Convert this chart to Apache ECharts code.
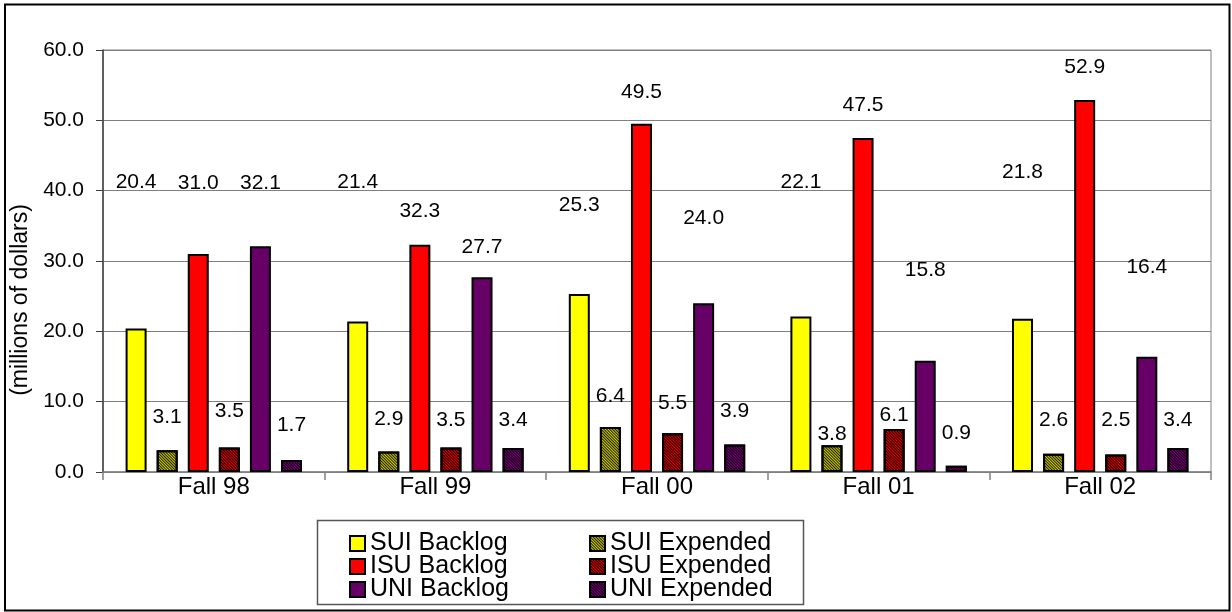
<!DOCTYPE html>
<html>
<head>
<meta charset="utf-8">
<script src="https://cdn.jsdelivr.net/npm/echarts@6/dist/echarts.min.js"></script>
<style>
  html, body { margin: 0; padding: 0; background: #ffffff; }
  #chart { width: 1232px; height: 612px; }
</style>
</head>
<body>
<div id="chart"></div>
<script>
// Terms and values (millions of dollars)
const categories = ['Fall 98', 'Fall 99', 'Fall 00', 'Fall 01', 'Fall 02'];
const suiBacklog  = [20.4, 21.4, 25.3, 22.1, 21.8];
const suiExpended = [3.1, 2.9, 6.4, 3.8, 2.6];
const isuBacklog  = [31.0, 32.3, 49.5, 47.5, 52.9];
const isuExpended = [3.5, 3.5, 5.5, 6.1, 2.5];
const uniBacklog  = [32.1, 27.7, 24.0, 15.8, 16.4];
const uniExpended = [1.7, 3.4, 3.9, 0.9, 3.4];
const yTicks = [0, 10, 20, 30, 40, 50, 60];

// How far (px) each value label sits above its bar top (label centre)
const liftSuiBacklog  = [146, 139, 89, 134, 146];
const liftSuiExpended = [33, 32, 31, 11, 34];
const liftIsuBacklog  = [71, 34, 32, 33, 33];
const liftIsuExpended = [36, 27, 30, 14, 34];
const liftUniBacklog  = [63, 30, 85, 91, 89];
const liftUniExpended = [35, 28, 33, 32, 28];

const plainFont = "'Liberation Sans', Arial, sans-serif";
const LABEL_HALF = 11;

function hatch() {
  return {
    symbol: 'rect',
    symbolSize: 1,
    dashArrayX: [1, 0],
    dashArrayY: [1, 1],
    rotation: Math.PI / 4,
    color: 'rgba(0,0,0,0.85)'
  };
}

function makeSeries(name, values, lifts, color, patterned) {
  return {
    name: name,
    type: 'bar',
    barWidth: 21,
    barGap: '48%',
    itemStyle: Object.assign({
      color: color,
      borderColor: '#000000',
      borderWidth: 2
    }, patterned ? { decal: hatch() } : {}),
    label: {
      show: true,
      position: 'top',
      color: '#000000',
      fontFamily: plainFont,
      fontSize: 21,
      lineHeight: 22,
      formatter: p => p.value.toFixed(1)
    },
    data: values.map((v, i) => ({
      value: v,
      label: { distance: Math.max(0, lifts[i] - LABEL_HALF) }
    }))
  };
}

function legendColumn(left, names) {
  return {
    orient: 'vertical',
    left: left, top: 526, height: 100,
    itemWidth: 15, itemHeight: 15, itemGap: -2,
    icon: 'rect',
    textStyle: { fontFamily: plainFont, fontSize: 25, lineHeight: 22, color: '#000000' },
    data: names
  };
}

const chart = echarts.init(document.getElementById('chart'), null, { renderer: 'canvas' });

chart.setOption({
  backgroundColor: '#ffffff',
  animation: false,
  grid: {
    left: 103, right: 21, top: 50, bottom: 140,
    outerBoundsMode: 'none',
    containLabel: false,
    show: true, borderColor: '#808080', borderWidth: 1
  },
  legend: [
    legendColumn(344, ['SUI Backlog', 'ISU Backlog', 'UNI Backlog']),
    legendColumn(584, ['SUI Expended', 'ISU Expended', 'UNI Expended'])
  ],
  xAxis: {
    type: 'category',
    data: categories,
    axisLine: { lineStyle: { color: '#808080', width: 1.5 } },
    axisTick: { show: true, length: 8, lineStyle: { color: '#808080', width: 1.5 } },
    axisLabel: { margin: 3, color: '#000000', fontFamily: plainFont, fontSize: 24 }
  },
  yAxis: {
    type: 'value',
    min: yTicks[0],
    max: yTicks[yTicks.length - 1],
    interval: yTicks[1] - yTicks[0],
    name: '(millions of dollars)',
    nameLocation: 'middle',
    nameGap: 66,
    nameTextStyle: { fontFamily: plainFont, fontSize: 23, color: '#000000', padding: [0, 78, 0, 0] },
    axisLine: { show: true, lineStyle: { color: '#404040', width: 1.5 } },
    axisTick: { show: true, length: 7, lineStyle: { color: '#404040', width: 1 } },
    axisLabel: {
      margin: 19, color: '#000000', fontFamily: plainFont, fontSize: 21,
      formatter: v => v.toFixed(1)
    },
    splitLine: { show: true, lineStyle: { color: '#808080', width: 1 } }
  },
  graphic: [
    {
      type: 'rect',
      shape: { x: 5, y: 4.5, width: 1224.5, height: 606 },
      style: { fill: 'none', stroke: '#000000', lineWidth: 2 },
      silent: true, z: 100
    },
    {
      type: 'rect',
      shape: { x: 317.5, y: 520.5, width: 486, height: 84 },
      style: { fill: 'none', stroke: '#555555', lineWidth: 1.5 },
      silent: true, z: 100
    }
  ],
  series: [
    makeSeries('SUI Backlog', suiBacklog, liftSuiBacklog, '#FFFF00', false),
    makeSeries('SUI Expended', suiExpended, liftSuiExpended, '#CCCC00', true),
    makeSeries('ISU Backlog', isuBacklog, liftIsuBacklog, '#FF0000', false),
    makeSeries('ISU Expended', isuExpended, liftIsuExpended, '#E00000', true),
    makeSeries('UNI Backlog', uniBacklog, liftUniBacklog, '#660066', false),
    makeSeries('UNI Expended', uniExpended, liftUniExpended, '#770077', true)
  ]
});
</script>
</body>
</html>
